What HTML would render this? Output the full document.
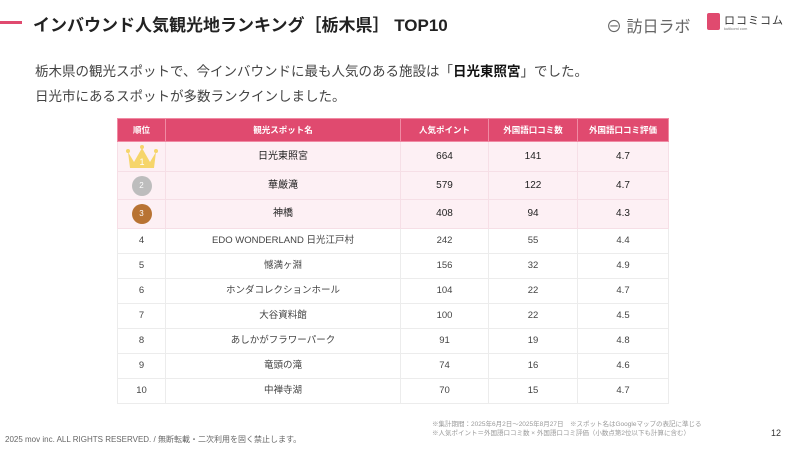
<!DOCTYPE html>
<html><head><meta charset="utf-8"><style>
*{margin:0;padding:0;box-sizing:border-box}
body{width:800px;height:450px;background:#fff;position:relative;overflow:hidden;font-family:"Liberation Sans","Noto Sans CJK JP",sans-serif;color:#333}
.a{position:absolute;white-space:nowrap}
table{position:absolute;left:117px;top:118px;border-collapse:collapse;font-size:9.5px;color:#444}
td,th{text-align:center;vertical-align:middle;border:1px solid #ececec;padding:0;line-height:12px}
th{background:#e04a6f;color:#fff;font-size:8.5px;font-weight:bold;height:23px;border-color:#f08aa3}
tr.p td{background:#fdf0f4;color:#222;font-size:10px;border-color:#f6dfe6}
tr.n td{height:25px}
.badge{display:block;margin:0 auto;width:20px;height:20px;border-radius:50%;color:#fff;font-size:8px;line-height:20px}
</style></head><body>
<div class="a" style="left:0;top:21px;width:22px;height:3px;background:#e04a6f"></div>
<div class="a" style="left:33px;top:11px;font-size:17px;font-weight:bold;color:#222">インバウンド人気観光地ランキング［栃木県］ TOP10</div>
<div class="a" style="left:606px;top:13px;font-size:16px;color:#666">⊖ 訪日ラボ</div>
<div class="a" style="left:707px;top:13px;width:13px;height:17px;background:#e04a6f;border-radius:2px"></div>
<div class="a" style="left:724px;top:12px;font-size:11px;color:#333;letter-spacing:1px">ロコミコム</div>
<div class="a" style="left:724px;top:26px;font-size:4px;color:#777">kutikomi com</div>
<div class="a" style="left:35px;top:60px;font-size:13.5px;color:#444">栃木県の観光スポットで、今インバウンドに最も人気のある施設は「<b style="color:#111">日光東照宮</b>」でした。</div>
<div class="a" style="left:35px;top:85px;font-size:13.5px;color:#444">日光市にあるスポットが多数ランクインしました。</div>
<table>
<tr><th style="width:48px">順位</th><th style="width:235px">観光スポット名</th><th style="width:88px">人気ポイント</th><th style="width:89px">外国語口コミ数</th><th style="width:91px">外国語口コミ評価</th></tr>
<tr class="p"><td style="height:30px"><svg style="display:block;margin:0 auto" width="36" height="26" viewBox="0 0 36 26"><path d="M4 8 L10 18 L18 4 L26 18 L32 8 L30 24 L6 24 Z" fill="#f6d56a"/><circle cx="4" cy="7" r="2" fill="#f6d56a"/><circle cx="32" cy="7" r="2" fill="#f6d56a"/><circle cx="18" cy="3" r="2" fill="#f6d56a"/><text x="18" y="21" font-size="9" fill="#fff" text-anchor="middle" font-family="Liberation Sans">1</text></svg></td><td>日光東照宮</td><td>664</td><td>141</td><td>4.7</td></tr>
<tr class="p"><td style="height:28px"><span class="badge" style="background:#bdbdbd">2</span></td><td>華厳滝</td><td>579</td><td>122</td><td>4.7</td></tr>
<tr class="p"><td style="height:29px"><span class="badge" style="background:#b87333">3</span></td><td>神橋</td><td>408</td><td>94</td><td>4.3</td></tr>
<tr class="n"><td>4</td><td>EDO WONDERLAND 日光江戸村</td><td>242</td><td>55</td><td>4.4</td></tr>
<tr class="n"><td>5</td><td>憾満ヶ淵</td><td>156</td><td>32</td><td>4.9</td></tr>
<tr class="n"><td>6</td><td>ホンダコレクションホール</td><td>104</td><td>22</td><td>4.7</td></tr>
<tr class="n"><td>7</td><td>大谷資料館</td><td>100</td><td>22</td><td>4.5</td></tr>
<tr class="n"><td>8</td><td>あしかがフラワーパーク</td><td>91</td><td>19</td><td>4.8</td></tr>
<tr class="n"><td>9</td><td>竜頭の滝</td><td>74</td><td>16</td><td>4.6</td></tr>
<tr class="n"><td>10</td><td>中禅寺湖</td><td>70</td><td>15</td><td>4.7</td></tr>
</table>
<div class="a" style="left:432px;top:420px;font-size:6.5px;color:#999;line-height:9px">※集計期間：2025年6月2日〜2025年8月27日　※スポット名はGoogleマップの表記に準じる<br>※人気ポイント＝外国語口コミ数 × 外国語口コミ評価（小数点第2位以下も計算に含む）</div>
<div class="a" style="left:5px;top:434px;font-size:8px;color:#666">2025 mov inc. ALL RIGHTS RESERVED. / 無断転載・二次利用を固く禁止します。</div>
<div class="a" style="left:771px;top:428px;font-size:9px;color:#333">12</div>
</body></html>
